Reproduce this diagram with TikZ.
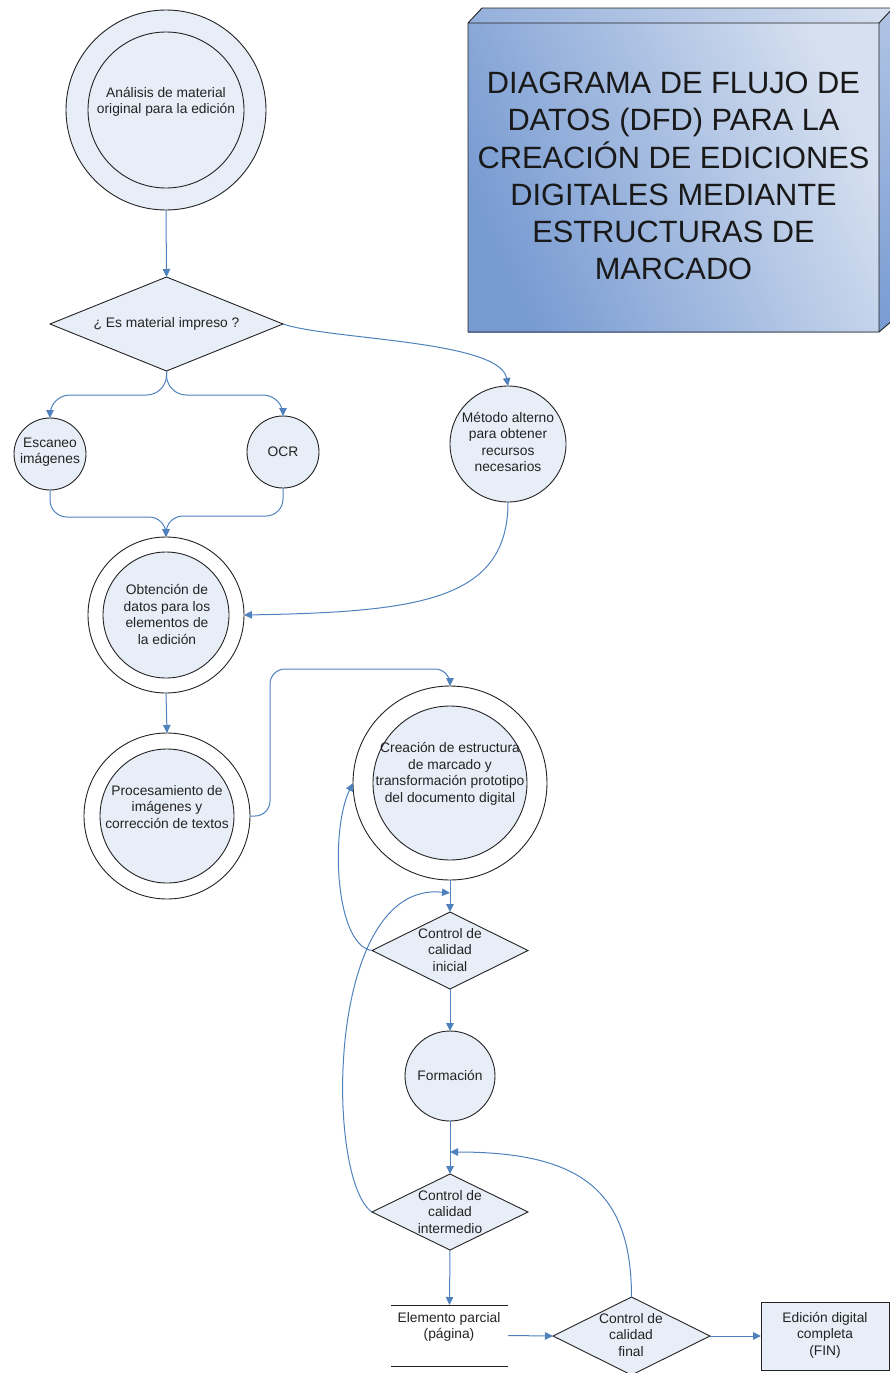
\documentclass[tikz,border=0pt]{standalone}
\usepackage{fontspec}
\setmainfont{Liberation Sans}
\usetikzlibrary{shapes.geometric,arrows.meta}
\definecolor{flow}{RGB}{79,129,189}
\definecolor{procfill}{RGB}{232,238,247}
\definecolor{ink}{RGB}{35,35,35}
\definecolor{boxdark}{RGB}{120,155,210}
\definecolor{boxlight}{RGB}{214,224,240}
\tikzset{
  proc/.style={circle, draw=ink, line width=0.9pt, fill=procfill, inner sep=0pt, outer sep=0pt, minimum size=#1},
  ring/.style={circle, draw=ink, line width=0.9pt, fill=white, inner sep=0pt, outer sep=0pt, minimum size=#1},
  decision/.style 2 args={diamond, draw=ink, line width=0.9pt, fill=procfill, inner sep=0pt, outer sep=0pt, minimum width=#1, minimum height=#2},
  txt/.style={align=center, text=ink, font=\fontsize{13.8}{16.5}\selectfont, inner sep=0pt},
  flowline/.style={draw=flow, line width=1pt},
  flowarrow/.style={flowline, -{Triangle[length=8pt,width=7.5pt]}},
}
\begin{document}
\begin{tikzpicture}[x=1pt,y=1pt]
\useasboundingbox (0,0) rectangle (890,-1373);

% title block drawn as a 3D slab
\begin{scope}
  \clip (0,0) rectangle (890,-1373);
  \shade[top color=boxlight, bottom color=boxdark, shading angle=-65] (468,-23) rectangle (879,-332);
  \shade[left color=boxdark!70!boxlight, right color=boxlight] (468,-23) -- (482,-8) -- (893,-8) -- (879,-23) -- cycle;
  \shade[top color=boxlight!60!boxdark, bottom color=boxdark] (879,-23) -- (893,-8) -- (893,-320) -- (879,-332) -- cycle;
  \draw[ink, line width=0.9pt, line join=round] (468,-23) rectangle (879,-332)
    (468,-23) -- (482,-8) -- (893,-8) -- (879,-23)
    (893,-8) -- (893,-320) -- (879,-332);
\end{scope}
\node[align=center, text=black!90, inner sep=0pt, font=\fontsize{30.8}{37.2}\selectfont] (title) at (673.5,-176)
  {DIAGRAMA DE FLUJO DE\\DATOS (DFD) PARA LA\\CREACIÓN DE EDICIONES\\DIGITALES MEDIANTE\\ESTRUCTURAS DE\\MARCADO};

% processes and decisions
\node[proc=200] (ana) at (166,-110) {};
\node[proc=156] (anaIn) at (166,-110) {};
\node[txt] (anaT) at (166,-102) {Análisis de material\\original para la edición};

\node[decision={233}{94}] (q1) at (166.5,-324) {};
\node[txt] (q1T) at (166.5,-324) {¿ Es material impreso ?};

\node[proc=72] (esc) at (50,-454) {};
\node[txt] (escT) at (50,-452) {Escaneo\\imágenes};

\node[proc=72] (ocr) at (283,-452) {};
\node[txt] (ocrT) at (283,-452) {OCR};

\node[proc=116] (met) at (508,-444) {};
\node[txt] (metT) at (508,-442) {Método alterno\\para obtener\\recursos\\necesarios};

\node[ring=156] (obt) at (166,-615) {};
\node[proc=126] (obtIn) at (166,-615) {};
\node[txt] (obtT) at (167,-614.5) {Obtención de\\datos para los\\elementos de\\la edición};

\node[ring=166] (pro) at (167,-816) {};
\node[proc=134] (proIn) at (167,-816) {};
\node[txt] (proT) at (167,-807) {Procesamiento de\\imágenes y\\corrección de textos};

\node[ring=194] (cre) at (450,-783) {};
\node[proc=154] (creIn) at (450,-783) {};
\node[txt] (creT) at (450,-774) {Creación de estructura\\de marcado y\\transformación prototipo\\del documento digital};

\node[decision={156}{77}] (ini) at (450,-950.5) {};
\node[txt] (iniT) at (450,-950) {Control de\\calidad\\inicial};

\node[proc=90] (form) at (450,-1076) {};
\node[txt] (formT) at (450,-1075) {Formación};

\node[decision={156}{76}] (int) at (450,-1212) {};
\node[txt] (intT) at (450,-1212) {Control de\\calidad\\intermedio};

\node[minimum width=117, minimum height=61, inner sep=0pt, outer sep=0pt] (st) at (449.5,-1335.5) {};
\draw[ink, line width=0.9pt] (st.north west) -- (st.north east) (st.south west) -- (st.south east);
\node[txt] (stT) at (449,-1327) {Elemento parcial\\(página)};

\node[decision={157}{78}] (fin) at (631.5,-1336) {};
\node[txt] (finT) at (631,-1335) {Control de\\calidad\\final};

\node[draw=ink, line width=0.9pt, fill=procfill, minimum width=128, minimum height=68, inner sep=0pt, outer sep=0pt] (end) at (825,-1336) {};
\node[txt] (endT) at (825,-1335) {Edición digital\\completa\\(FIN)};

% junction points on the main vertical flow
\coordinate (m1) at (450,-893);
\coordinate (m2) at (450,-1152);

% data flows
\draw[flowarrow] (ana.south) -- (q1.north);
\draw[flowarrow, rounded corners=20pt] (q1.south) -- ++(0,-24) -| (esc.north);
\draw[flowarrow, rounded corners=20pt] (q1.south) -- ++(0,-24) -| (ocr.north);
\draw[flowarrow] (q1.east) .. controls +(47,-16) and +(-8,46) .. (met.north);
\draw[flowarrow, rounded corners=17pt] (esc.south) -- ++(0,-27) -| (obt.north);
\draw[flowarrow, rounded corners=17pt] (ocr.south) -- ++(0,-28) -| (obt.north);
\draw[flowarrow] (met.south) .. controls +(0,-98) and +(176,3) .. (obt.east);
\draw[flowarrow] (obt.south) -- (pro.north);
\draw[flowarrow, rounded corners=15pt] (pro.east) -- ++(20,0) |- ([yshift=17pt]cre.north) -- (cre.north);
\draw[flowarrow] (cre.south) -- (ini.north);
\draw[flowarrow] (ini.west) .. controls +(-37,5) and +(-23,-47) .. (cre.west);
\draw[flowarrow] (int.west) .. controls +(-47,32) and +(-125,13) .. (m1);
\draw[flowarrow] (ini.south) -- (form.north);
\draw[flowarrow] (form.south) -- (int.north);
\draw[flowarrow] (fin.north) .. controls +(0,107) and +(130,0) .. (m2);
\draw[flowarrow] (int.south) -- (st.north);
\draw[flowarrow] (st.east) -- (fin.west);
\draw[flowarrow] (fin.east) -- (end.west);
\end{tikzpicture}
\end{document}
